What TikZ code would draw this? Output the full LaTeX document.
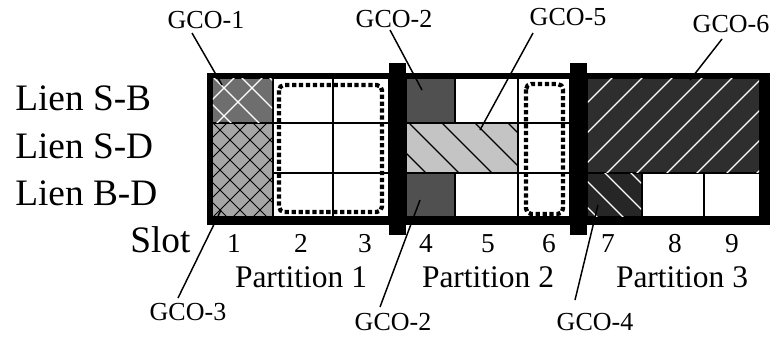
\documentclass[tikz,border=0pt]{standalone}
\usepackage{fontspec}
\setmainfont{Liberation Serif}
\definecolor{gA}{HTML}{6E6E6E}
\definecolor{gB}{HTML}{A6A6A6}
\definecolor{gC}{HTML}{505050}
\definecolor{gD}{HTML}{C4C4C4}
\definecolor{gE}{HTML}{2E2E2E}
\definecolor{gF}{HTML}{262626}
\begin{document}
\begin{tikzpicture}[x=0.75pt,y=-0.75pt,
  lbl/.style={font=\fontsize{28}{28}\selectfont, anchor=base west, inner sep=0pt},
  num/.style={font=\fontsize{20.5}{20.5}\selectfont, anchor=base, inner sep=0pt},
  part/.style={font=\fontsize{23.6}{23.6}\selectfont, anchor=base, inner sep=0pt},
  gco/.style={font=\fontsize{19.5}{19.5}\selectfont, anchor=base, inner sep=0pt},
  leader/.style={line width=1.1pt},
  dotbox/.style={line width=3.2pt, dash pattern=on 3.2pt off 2pt, rounded corners=4pt},
  hatch/.style={line width=0.9pt}]
\useasboundingbox (0,0) rectangle (774,337);
\newcommand{\cellfill}[5]{\fill[#5] (#1+0.9,#2+0.9) rectangle (#3-0.9,#4-0.9);}
% frame and partition bars
\fill[black] (207,73) rectangle (770,225);
\fill[black] (389,63) rectangle (406,235);
\fill[black] (570,63) rectangle (587,235);
% partition 1
\cellfill{212}{78}{273}{123}{gA}
\cellfill{212}{123}{273}{217}{gB}
\foreach \ya/\yb in {78/123,123/173,173/217}{
  \cellfill{273}{\ya}{333}{\yb}{white}
  \cellfill{333}{\ya}{389}{\yb}{white}
  \cellfill{518}{\ya}{570}{\yb}{white}
}
\begin{scope}
  \clip (212.9,78.9) rectangle (272.1,122.1);
  \foreach \x in {140,168,...,300}{
    \draw[hatch,white] (\x,60) -- ++(90,90);
    \draw[hatch,white] (\x,60) -- ++(-90,90);
  }
\end{scope}
\begin{scope}
  \clip (212.9,123.9) rectangle (272.1,216.1);
  \foreach \x in {120,140,...,380}{
    \draw[hatch,black,line width=0.7pt] (\x,110) -- ++(120,120);
    \draw[hatch,black,line width=0.7pt] (\x,110) -- ++(-120,120);
  }
\end{scope}
% partition 2
\cellfill{406}{78}{455}{123}{gC}
\cellfill{455}{78}{518}{123}{white}
\cellfill{406}{123}{518}{173}{gD}
\cellfill{406}{173}{455}{217}{gC}
\cellfill{455}{173}{518}{217}{white}
\begin{scope}
  \clip (406.9,123.9) rectangle (517.1,172.1);
  \foreach \x in {330,363,...,520}{
    \draw[hatch,black] (\x,110) -- ++(80,80);
  }
\end{scope}
% partition 3
\cellfill{587}{78}{760}{173}{gE}
\cellfill{587}{173}{642}{217}{gF}
\cellfill{642}{173}{704}{217}{white}
\cellfill{704}{173}{760}{217}{white}
\begin{scope}
  \clip (587.9,78.9) rectangle (759.1,172.1);
  \foreach \x in {600,630,...,900}{
    \draw[hatch,white] (\x,60) -- ++(-130,130);
  }
\end{scope}
\begin{scope}
  \clip (587.9,173.9) rectangle (641.1,216.1);
  \foreach \x in {540,566,...,660}{
    \draw[hatch,white] (\x,160) -- ++(70,70);
  }
\end{scope}
% dotted groups
\draw[dotbox] (279,85) rectangle (382,212);
\draw[dotbox] (526,84) rectangle (563,214);
% row labels
\node[lbl] (r1) at (15,110) {Lien S-B};
\node[lbl] (r2) at (15,158) {Lien S-D};
\node[lbl] (r3) at (15,205) {Lien B-D};
\node[lbl] (slot) at (130,252) {Slot};
% slot numbers
\foreach \n/\x in {1/234,2/301,3/365,4/426,5/488,6/549,7/608,8/675,9/732}{
  \node[num] (s\n) at (\x,252) {\n};
}
\node[part] (p1) at (301,287) {Partition 1};
\node[part] (p2) at (488,287) {Partition 2};
\node[part] (p3) at (682,287) {Partition 3};
% GCO labels
\node[gco] (g1) at (206,28) {GCO-1};
\node[gco] (g2t) at (394,27) {GCO-2};
\node[gco] (g5) at (568,25) {GCO-5};
\node[gco] (g6) at (731,32) {GCO-6};
\node[gco] (g3) at (188,320) {GCO-3};
\node[gco] (g2b) at (393,330) {GCO-2};
\node[gco] (g4) at (595,330) {GCO-4};
% leader end points
\coordinate (e1) at (222,85);
\coordinate (e2t) at (422,90);
\coordinate (e5) at (480,130);
\coordinate (e6) at (690,80);
\coordinate (e3) at (221,210);
\coordinate (e2b) at (420,200);
\coordinate (e4) at (598,205);
\draw[leader] ([shift={(-14,5)}]g1.base) -- (e1);
\draw[leader] ([shift={(-4,3)}]g2t.base) -- (e2t);
\draw[leader] ([shift={(-35,8)}]g5.base) -- (e5);
\draw[leader] ([shift={(-9,7)}]g6.base) -- (e6);
\draw[leader] ([shift={(-10,-22)}]g3.base) -- (e3);
\draw[leader] ([shift={(-13,-23)}]g2b.base) -- (e2b);
\draw[leader] ([shift={(-20,-30)}]g4.base) -- (e4);
\end{tikzpicture}
\end{document}
